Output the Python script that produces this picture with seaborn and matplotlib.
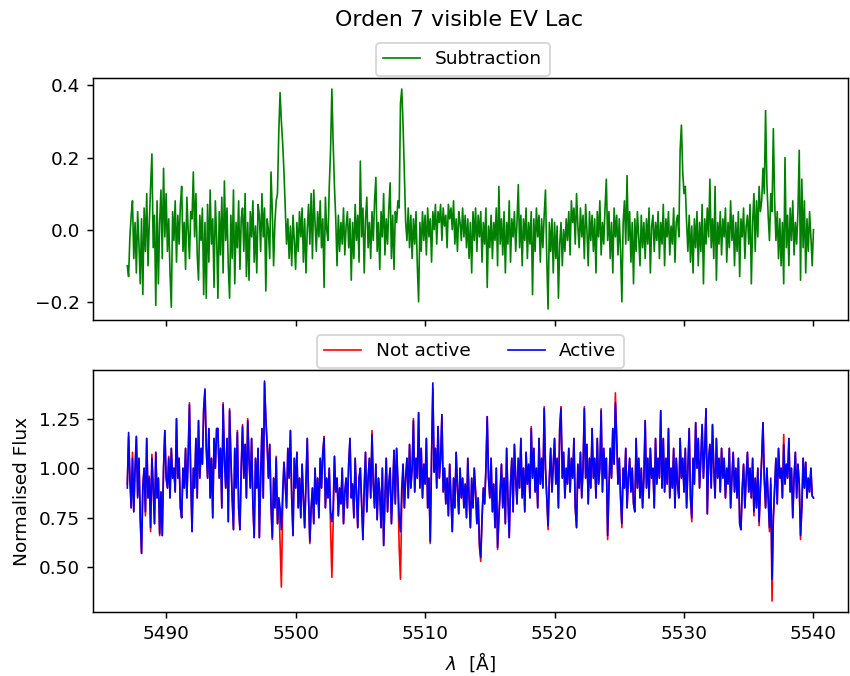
import numpy as np
import matplotlib
matplotlib.use("Agg")
import matplotlib.pyplot as plt
from matplotlib.ticker import MultipleLocator
import seaborn as sns

# wavelength grid (Angstrom), 0.1 A sampling from 5487.0 to 5540.0
wavelength = np.round(np.arange(5487.0, 5540.05, 0.1), 1)

subtraction = [
    -0.10, -0.13, -0.02, 0.04, 0.08, -0.08, 0.02, -0.12, 0.05, -0.04,
    -0.15, 0.03, -0.18, 0.06, -0.06, 0.10, -0.10, 0.02, 0.12, 0.21,
    -0.05, 0.04, -0.21, 0.08, -0.15, 0.02, 0.11, -0.08, 0.17, -0.02,
    0.10, -0.06, 0.03, -0.12, -0.215, 0.05, -0.03, 0.08, -0.09, 0.04,
    -0.04, 0.07, 0.12, -0.06, 0.02, -0.11, 0.09, 0.00, -0.08, 0.05,
    0.03, 0.16, -0.02, 0.10, -0.07, -0.14, 0.04, -0.03, 0.06, -0.18,
    0.02, -0.19, 0.07, -0.09, 0.11, -0.04, 0.03, -0.16, 0.08, -0.02,
    -0.19, 0.05, -0.07, 0.09, -0.12, 0.135, -0.03, 0.06, -0.10, -0.19,
    0.04, -0.08, 0.11, -0.15, 0.02, -0.05, 0.08, -0.11, 0.03, 0.06,
    -0.06, 0.10, -0.13, 0.02, -0.14, 0.05, -0.02, 0.08, -0.09, 0.01,
    -0.12, 0.07, 0.04, -0.06, 0.10, -0.02, 0.06, -0.17, 0.03, 0.00,
    -0.08, 0.16, 0.05, -0.10, 0.02, 0.08, 0.10, 0.27, 0.38, 0.30,
    0.24, 0.16, 0.06, -0.04, 0.03, -0.08, 0.01, -0.10, 0.04, -0.03,
    -0.11, 0.02, -0.06, 0.05, -0.02, 0.06, -0.09, 0.03, -0.12, 0.00,
    0.07, -0.04, 0.10, -0.08, 0.11, 0.02, -0.06, 0.05, -0.02, 0.08,
    -0.05, 0.03, -0.16, 0.09, 0.00, -0.03, 0.12, 0.22, 0.39, 0.24,
    0.12, 0.03, -0.10, 0.04, -0.06, 0.02, -0.04, 0.06, -0.07, 0.01,
    0.05, -0.05, 0.03, -0.14, 0.02, -0.08, 0.07, -0.03, 0.04, -0.09,
    0.19, -0.02, 0.06, -0.12, 0.03, 0.09, -0.05, 0.02, -0.08, 0.05,
    -0.03, 0.08, 0.145, -0.06, 0.02, -0.11, 0.05, -0.02, 0.10, -0.07,
    0.03, -0.04, 0.06, 0.13, -0.08, 0.04, -0.11, 0.05, 0.02, 0.08,
    0.06, 0.35, 0.39, 0.29, 0.15, 0.02, -0.03, 0.06, -0.05, 0.04,
    -0.08, 0.03, -0.04, 0.05, -0.10, -0.20, 0.02, -0.06, 0.05, -0.03,
    0.04, -0.07, 0.06, -0.02, 0.03, -0.09, 0.05, 0.00, 0.07, -0.04,
    0.05, 0.02, 0.07, -0.03, 0.06, 0.01, 0.04, -0.05, 0.07, 0.03,
    0.06, 0.00, 0.08, -0.04, 0.03, -0.06, 0.05, 0.02, -0.03, 0.06,
    -0.02, 0.04, -0.05, 0.03, -0.08, 0.02, -0.12, 0.05, -0.03, 0.06,
    -0.06, 0.04, -0.02, 0.05, -0.09, 0.02, -0.04, 0.06, -0.16, 0.01,
    -0.05, 0.04, -0.08, 0.02, -0.03, 0.06, -0.10, 0.12, -0.04, 0.03,
    -0.07, 0.05, -0.12, 0.02, -0.04, 0.08, -0.09, 0.03, -0.02, 0.05,
    -0.06, 0.02, 0.125, -0.05, 0.04, -0.10, 0.03, -0.03, 0.06, -0.08,
    0.02, -0.04, 0.05, -0.18, 0.03, -0.06, 0.06, -0.02, 0.04, -0.09,
    0.03, -0.05, 0.04, 0.11, -0.08, -0.22, 0.02, -0.06, 0.03, -0.12,
    0.02, -0.08, 0.01, -0.19, -0.04, 0.02, -0.10, 0.00, -0.06, 0.03,
    -0.03, 0.05, -0.07, 0.08, 0.02, 0.06, -0.04, 0.10, 0.01, -0.05,
    0.06, -0.02, 0.04, -0.08, 0.07, 0.00, -0.10, 0.05, -0.03, 0.04,
    -0.06, 0.03, -0.12, 0.05, -0.02, 0.08, -0.07, 0.02, -0.04, 0.06,
    0.14, -0.03, 0.05, -0.08, 0.02, -0.12, 0.06, -0.02, 0.04, -0.07,
    0.03, -0.06, -0.20, 0.02, 0.08, -0.04, 0.15, -0.03, 0.05, -0.09,
    0.02, -0.15, 0.03, -0.06, 0.05, -0.02, -0.10, 0.04, -0.05, 0.02,
    -0.08, 0.03, -0.04, 0.06, -0.12, 0.01, 0.04, -0.06, 0.02, -0.03,
    0.05, -0.08, 0.02, -0.04, 0.07, -0.10, 0.03, -0.02, 0.05, -0.07,
    0.01, -0.04, 0.06, -0.09, 0.02, 0.04, -0.02, 0.22, 0.29, 0.16,
    0.10, 0.12, 0.02, -0.06, 0.04, -0.09, 0.01, -0.12, 0.03, -0.05,
    0.05, -0.10, 0.02, -0.06, 0.07, -0.15, 0.03, -0.04, 0.06, -0.02,
    0.14, -0.05, 0.03, -0.08, 0.12, -0.14, 0.02, -0.04, 0.05, -0.07,
    0.03, -0.02, 0.06, -0.09, 0.02, -0.05, 0.08, -0.03, 0.04, -0.10,
    0.02, -0.06, 0.05, -0.13, 0.03, -0.02, 0.06, -0.08, 0.01, 0.04,
    -0.04, 0.07, -0.15, 0.02, 0.10, -0.06, 0.08, -0.02, 0.12, 0.05,
    0.08, 0.17, 0.10, 0.33, 0.13, 0.04, -0.03, 0.10, 0.05, 0.28,
    0.08, -0.03, 0.05, -0.08, 0.03, -0.10, 0.02, -0.15, 0.20, -0.05,
    0.04, -0.10, 0.06, -0.03, 0.08, -0.07, 0.02, -0.04, 0.05, 0.22,
    -0.14, 0.14, -0.05, 0.08, -0.12, 0.03, -0.06, 0.05, -0.02, -0.10,
    0.00,
]

not_active = [
    0.92, 1.16, 0.96, 0.80, 1.08, 0.78, 1.00, 1.16, 0.86, 1.05,
    0.74, 0.57, 0.92, 1.00, 0.76, 1.15, 0.85, 0.96, 0.68, 1.07,
    0.90, 0.72, 1.08, 0.85, 0.95, 0.66, 0.88, 0.66, 1.00, 1.19,
    0.95, 0.90, 1.06, 0.85, 1.10, 0.95, 1.00, 0.88, 1.25, 0.95,
    1.05, 0.80, 0.75, 1.00, 0.90, 1.10, 0.85, 1.06, 1.33, 0.95,
    0.68, 1.00, 0.90, 1.15, 0.85, 1.24, 0.95, 1.10, 1.02, 1.30,
    1.39, 1.10, 0.95, 1.20, 0.85, 1.05, 0.75, 1.15, 1.00, 1.20,
    1.20, 0.95, 1.10, 0.80, 1.33, 1.05, 0.90, 1.15, 0.73, 1.30,
    1.05, 0.85, 0.69, 1.10, 0.90, 1.19, 0.80, 0.69, 1.00, 1.22,
    0.95, 1.12, 0.85, 1.25, 1.05, 0.90, 1.15, 0.82, 0.65, 1.05,
    0.90, 1.10, 0.65, 0.95, 1.20, 0.85, 1.43, 1.25, 1.12, 0.95,
    1.12, 0.81, 0.64, 0.95, 0.80, 1.06, 0.72, 0.85, 0.62, 0.40,
    0.80, 1.03, 0.92, 0.80, 1.10, 0.95, 1.19, 0.85, 0.66, 1.05,
    0.90, 1.08, 0.80, 0.95, 0.75, 1.02, 0.85, 0.70, 0.92, 1.15,
    0.85, 0.62, 0.80, 0.90, 0.72, 1.00, 0.82, 0.95, 0.75, 1.05,
    0.90, 1.08, 1.16, 0.80, 0.95, 0.85, 1.00, 0.70, 0.45, 0.72,
    1.06, 0.88, 0.95, 0.76, 0.90, 0.82, 1.00, 0.72, 0.88, 0.95,
    0.80, 1.02, 1.15, 0.85, 0.92, 0.75, 1.05, 0.88, 0.70, 0.95,
    1.00, 0.82, 0.64, 0.90, 1.08, 0.78, 0.95, 1.05, 0.85, 1.19,
    0.92, 0.80, 1.02, 0.74, 0.95, 0.88, 0.70, 1.00, 0.61, 0.85,
    1.05, 0.78, 0.92, 1.00, 0.72, 0.88, 1.09, 0.82, 1.10, 0.90,
    0.60, 0.44, 0.82, 1.02, 0.80, 0.95, 1.05, 0.85, 1.12, 0.90,
    1.00, 1.25, 0.88, 1.05, 0.95, 1.28, 0.90, 1.10, 0.85, 1.02,
    0.92, 1.15, 0.80, 0.95, 0.62, 1.05, 1.40, 0.98, 1.10, 0.90,
    1.21, 0.95, 1.05, 1.27, 0.88, 1.00, 0.82, 0.95, 0.76, 1.02,
    0.85, 0.68, 0.95, 0.80, 1.08, 0.90, 0.77, 1.00, 0.85, 0.95,
    0.80, 0.92, 0.75, 1.05, 0.85, 0.70, 0.95, 0.80, 1.00, 0.88,
    0.72, 0.85, 0.60, 0.53, 0.75, 0.90, 0.82, 1.00, 1.26, 0.95,
    0.85, 1.05, 0.78, 0.92, 0.70, 1.00, 0.59, 0.75, 0.88, 1.02,
    0.80, 0.95, 0.72, 1.10, 0.85, 0.65, 0.92, 1.05, 0.78, 1.12,
    0.95, 0.82, 1.05, 0.90, 1.15, 0.85, 1.00, 0.78, 1.08, 0.92,
    1.02, 0.85, 1.21, 0.95, 1.10, 0.88, 1.00, 0.80, 1.15, 0.92,
    1.05, 0.90, 1.31, 1.00, 0.85, 0.69, 0.95, 1.10, 0.88, 1.02,
    1.15, 0.92, 1.05, 0.80, 1.21, 1.31, 0.95, 1.08, 0.85, 1.00,
    0.92, 1.10, 0.88, 1.05, 0.95, 1.15, 0.80, 0.70, 1.02, 0.90,
    1.08, 0.85, 1.00, 1.31, 0.95, 1.12, 0.82, 1.05, 0.90, 1.20,
    0.95, 1.05, 0.85, 1.15, 0.92, 1.00, 1.30, 0.88, 1.10, 0.95,
    1.05, 0.64, 0.90, 1.10, 0.95, 1.20, 1.02, 1.38, 1.15, 0.92,
    1.05, 0.85, 0.70, 1.00, 0.90, 1.10, 0.80, 0.95, 1.05, 0.88,
    1.00, 0.82, 0.78, 1.15, 0.90, 1.05, 0.85, 1.00, 0.80, 0.95,
    1.24, 0.90, 1.05, 0.85, 1.10, 0.95, 1.00, 0.80, 1.15, 0.92,
    1.05, 0.95, 1.29, 0.90, 1.15, 0.88, 1.05, 0.92, 1.20, 0.85,
    1.00, 0.90, 1.10, 0.80, 1.05, 0.92, 0.85, 1.15, 0.95, 1.05,
    0.88, 1.10, 0.80, 1.00, 1.20, 0.85, 0.73, 1.05, 0.92, 1.23,
    1.00, 1.15, 0.90, 1.05, 1.22, 0.95, 1.10, 1.30, 0.77, 1.05,
    1.12, 0.90, 1.22, 1.00, 0.85, 1.15, 0.95, 1.05, 0.88, 1.10,
    0.95, 1.05, 0.85, 1.00, 0.92, 1.10, 0.80, 0.95, 1.08, 0.88,
    1.00, 0.85, 1.05, 0.72, 0.69, 0.90, 1.02, 0.80, 0.95, 1.08,
    0.88, 1.00, 0.85, 1.05, 0.76, 0.95, 0.80, 1.00, 0.71, 0.90,
    1.05, 1.23, 0.95, 0.80, 1.00, 0.85, 0.68, 0.92, 0.33, 0.75,
    0.90, 1.05, 0.82, 1.10, 0.95, 1.00, 0.85, 1.17, 0.92, 1.02,
    0.95, 1.15, 0.88, 1.00, 0.75, 0.95, 1.08, 0.85, 1.02, 0.92,
    0.64, 0.80, 1.05, 0.90, 1.03, 0.85, 0.95, 0.88, 1.00, 0.86,
    0.85,
]

active = [
    0.90, 1.18, 0.95, 0.80, 1.05, 0.78, 1.00, 1.16, 0.85, 1.05,
    0.75, 0.57, 0.90, 1.00, 0.78, 1.15, 0.85, 0.95, 0.70, 1.05,
    0.90, 0.72, 1.08, 0.85, 0.95, 0.67, 0.88, 0.66, 1.00, 1.19,
    0.95, 0.90, 1.05, 0.85, 1.10, 0.95, 1.00, 0.88, 1.25, 0.95,
    1.05, 0.80, 0.75, 1.00, 0.90, 1.10, 0.85, 1.05, 1.32, 0.95,
    0.68, 1.00, 0.90, 1.15, 0.85, 1.24, 0.95, 1.10, 1.02, 1.30,
    1.40, 1.10, 0.95, 1.20, 0.85, 1.05, 0.75, 1.15, 1.00, 1.20,
    1.20, 0.95, 1.10, 0.80, 1.32, 1.05, 0.90, 1.15, 0.73, 1.29,
    1.05, 0.85, 0.69, 1.10, 0.90, 1.18, 0.80, 0.69, 1.00, 1.21,
    0.95, 1.12, 0.85, 1.24, 1.05, 0.90, 1.15, 0.82, 0.65, 1.05,
    0.90, 1.10, 0.65, 0.95, 1.20, 0.85, 1.44, 1.25, 1.12, 0.95,
    1.12, 0.81, 0.65, 0.95, 0.80, 1.05, 0.72, 0.85, 0.80, 0.69,
    0.88, 1.03, 0.92, 0.80, 1.10, 0.95, 1.19, 0.85, 0.66, 1.05,
    0.90, 1.08, 0.80, 0.95, 0.75, 1.02, 0.85, 0.70, 0.92, 1.15,
    0.85, 0.63, 0.80, 0.90, 0.72, 1.00, 0.82, 0.95, 0.75, 1.05,
    0.90, 1.08, 1.15, 0.80, 0.95, 0.85, 1.00, 0.78, 0.73, 0.80,
    1.06, 0.88, 0.95, 0.76, 0.90, 0.82, 1.00, 0.72, 0.88, 0.95,
    0.80, 1.02, 1.15, 0.85, 0.92, 0.75, 1.05, 0.88, 0.70, 0.95,
    1.00, 0.82, 0.64, 0.90, 1.08, 0.78, 0.95, 1.05, 0.85, 1.17,
    0.92, 0.80, 1.02, 0.74, 0.95, 0.88, 0.70, 1.00, 0.61, 0.85,
    1.05, 0.78, 0.92, 1.00, 0.72, 0.88, 1.09, 0.82, 1.10, 0.95,
    0.75, 0.68, 0.90, 1.02, 0.80, 0.95, 1.05, 0.85, 1.12, 0.90,
    1.00, 1.24, 0.88, 1.05, 0.95, 1.28, 0.90, 1.10, 0.85, 1.02,
    0.92, 1.15, 0.80, 0.95, 0.63, 1.05, 1.43, 0.98, 1.10, 0.90,
    1.21, 0.95, 1.05, 1.27, 0.88, 1.00, 0.82, 0.95, 0.76, 1.02,
    0.85, 0.68, 0.95, 0.80, 1.08, 0.90, 0.77, 1.00, 0.85, 0.95,
    0.80, 0.92, 0.75, 1.05, 0.85, 0.70, 0.95, 0.80, 1.00, 0.88,
    0.72, 0.85, 0.62, 0.55, 0.75, 0.90, 0.82, 1.00, 1.26, 0.95,
    0.85, 1.05, 0.78, 0.92, 0.70, 1.00, 0.60, 0.75, 0.88, 1.02,
    0.80, 0.95, 0.72, 1.10, 0.85, 0.65, 0.92, 1.05, 0.78, 1.12,
    0.95, 0.82, 1.05, 0.90, 1.15, 0.85, 1.00, 0.78, 1.08, 0.92,
    1.02, 0.85, 1.20, 0.95, 1.10, 0.88, 1.00, 0.80, 1.15, 0.92,
    1.05, 0.90, 1.30, 1.00, 0.85, 0.71, 0.95, 1.10, 0.88, 1.02,
    1.15, 0.92, 1.05, 0.80, 1.20, 1.30, 0.95, 1.08, 0.85, 1.00,
    0.92, 1.10, 0.88, 1.05, 0.95, 1.15, 0.80, 0.70, 1.02, 0.90,
    1.08, 0.85, 1.00, 1.30, 0.95, 1.12, 0.82, 1.05, 0.90, 1.20,
    0.95, 1.05, 0.85, 1.15, 0.92, 1.00, 1.29, 0.88, 1.10, 0.95,
    1.05, 0.66, 0.90, 1.10, 0.95, 1.20, 1.02, 1.33, 1.15, 0.92,
    1.05, 0.85, 0.72, 1.00, 0.90, 1.10, 0.80, 0.95, 1.05, 0.88,
    1.00, 0.82, 0.78, 1.15, 0.90, 1.05, 0.85, 1.00, 0.80, 0.95,
    1.24, 0.90, 1.05, 0.85, 1.10, 0.95, 1.00, 0.80, 1.15, 0.92,
    1.05, 0.95, 1.29, 0.90, 1.15, 0.88, 1.05, 0.92, 1.20, 0.85,
    1.00, 0.90, 1.10, 0.80, 1.05, 0.92, 0.85, 1.15, 0.95, 1.05,
    0.88, 1.10, 0.80, 1.00, 1.20, 0.85, 0.75, 1.05, 0.92, 1.23,
    1.00, 1.15, 0.90, 1.05, 1.22, 0.95, 1.10, 1.30, 0.77, 1.05,
    1.12, 0.90, 1.22, 1.00, 0.85, 1.15, 0.95, 1.05, 0.88, 1.10,
    0.95, 1.05, 0.85, 1.00, 0.92, 1.10, 0.80, 0.95, 1.08, 0.88,
    1.00, 0.85, 1.05, 0.72, 0.69, 0.90, 1.02, 0.80, 0.95, 1.08,
    0.88, 1.00, 0.85, 1.05, 0.78, 0.95, 0.80, 1.00, 0.73, 0.90,
    1.05, 1.23, 0.95, 0.80, 1.00, 0.85, 0.70, 0.95, 0.44, 0.75,
    0.90, 1.05, 0.82, 1.10, 0.95, 1.00, 0.85, 1.12, 0.92, 1.02,
    0.95, 1.15, 0.88, 1.00, 0.75, 0.95, 1.08, 0.85, 1.02, 0.92,
    0.66, 0.80, 1.05, 0.90, 1.03, 0.85, 0.95, 0.88, 1.00, 0.86,
    0.85,
]

n = len(wavelength)
assert len(subtraction) == n and len(active) == n and len(not_active) == n

DPI = 133
fig = plt.figure(figsize=(850 / DPI, 676 / DPI), dpi=DPI)
ax1 = fig.add_axes([0.1094, 0.5266, 0.888, 0.358])
ax2 = fig.add_axes([0.1094, 0.0947, 0.888, 0.358], sharex=ax1)

LW = 0.9
sns.lineplot(x=wavelength, y=subtraction, ax=ax1, color="green", lw=LW,
             label="Subtraction", sort=False, estimator=None)
sns.lineplot(x=wavelength, y=not_active, ax=ax2, color="red", lw=LW,
             label="Not active", sort=False, estimator=None)
sns.lineplot(x=wavelength, y=active, ax=ax2, color="blue", lw=LW,
             label="Active", sort=False, estimator=None)

ax1.yaxis.set_major_locator(MultipleLocator(0.2))
ax2.yaxis.set_major_locator(MultipleLocator(0.25))
ax2.xaxis.set_major_locator(MultipleLocator(10))

ax1.legend(loc="lower center", bbox_to_anchor=(0.49, 1.0), borderaxespad=0.12)
ax2.legend(loc="lower center", bbox_to_anchor=(0.5, 1.0), ncol=2,
           borderaxespad=0.12)
plt.setp(ax1.get_xticklabels(), visible=False)
ax1.set_xlabel("")
ax2.set_xlabel(r"$\lambda$  [Å]")
ax2.set_ylabel("Normalised Flux")
fig.suptitle("Orden 7 visible EV Lac", x=0.54, y=0.985, fontsize=12)

fig.savefig("out.png", dpi=DPI)
